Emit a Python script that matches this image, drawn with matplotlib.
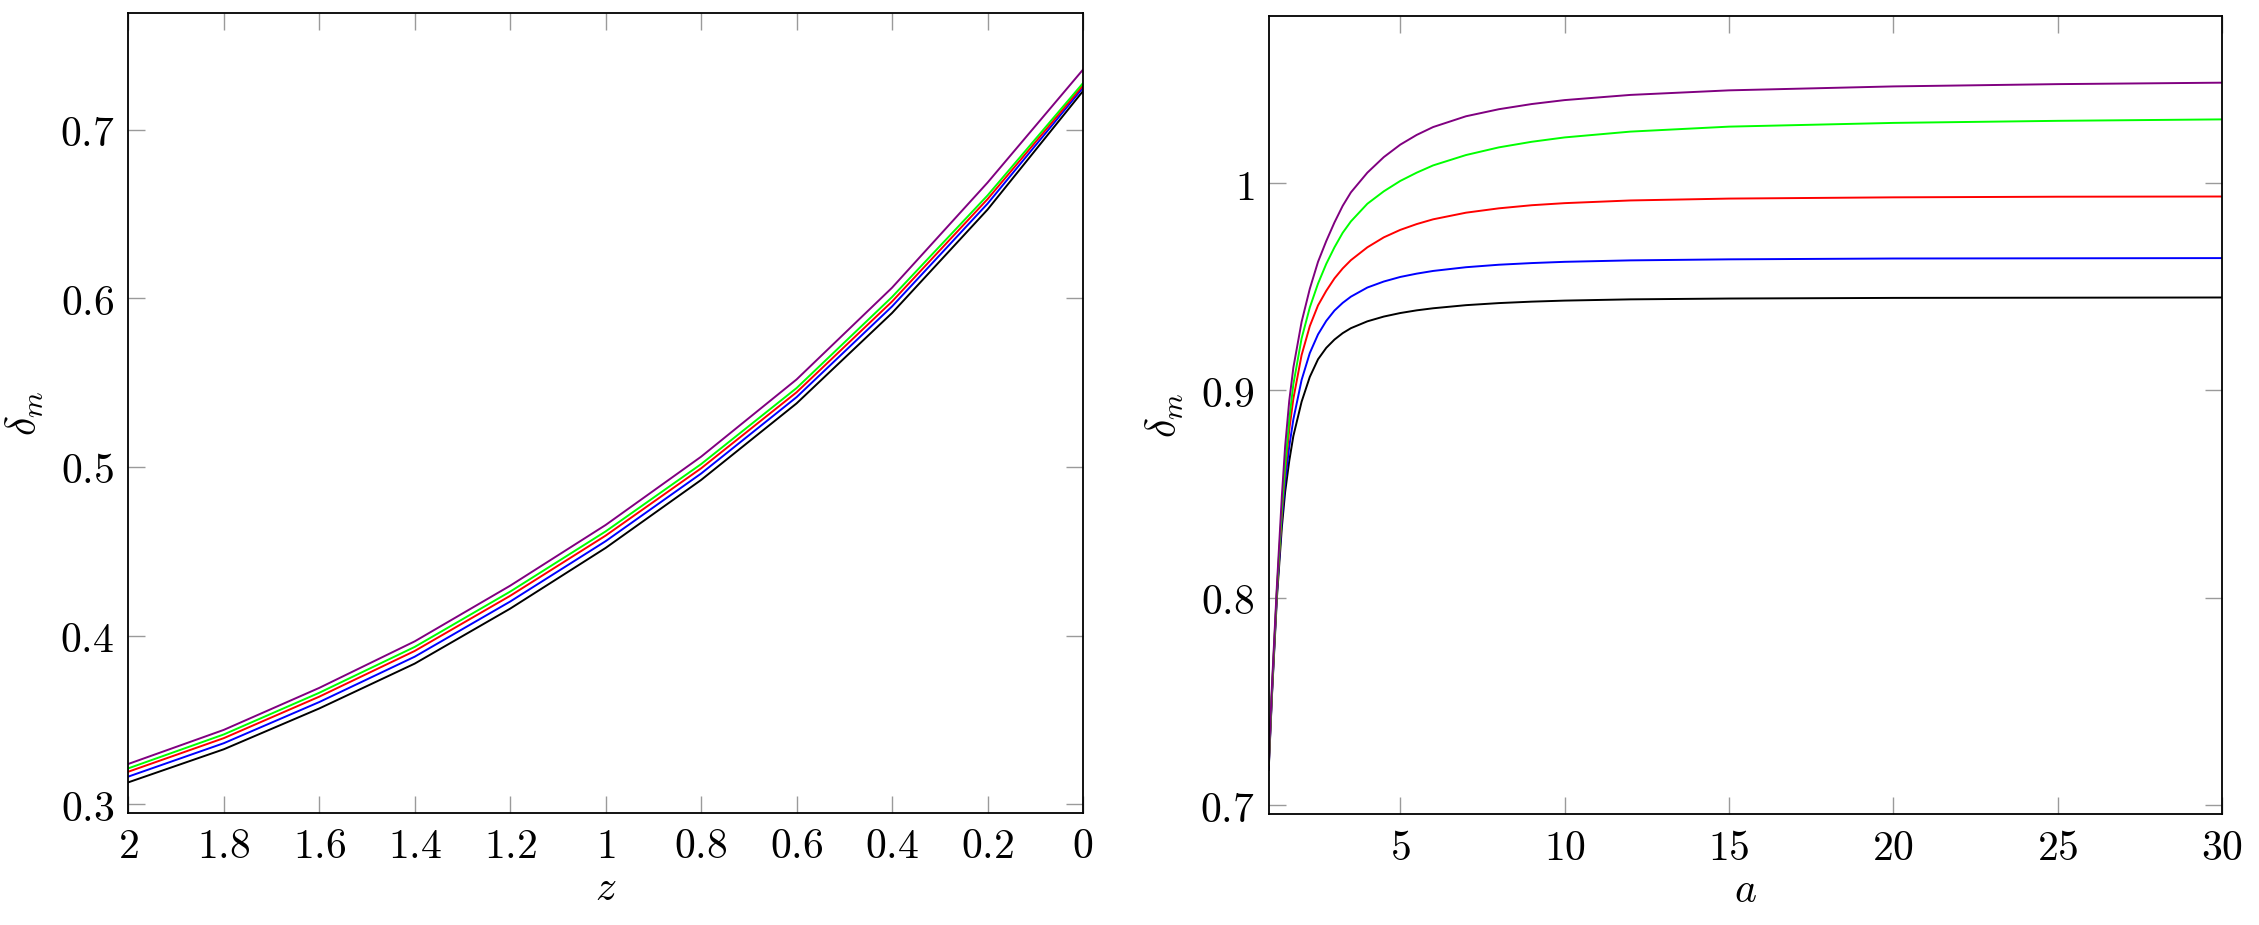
import matplotlib
matplotlib.use("Agg")
import matplotlib.pyplot as plt
from matplotlib.ticker import FixedLocator, FixedFormatter

plt.rcParams['mathtext.fontset'] = 'cm'
plt.rcParams['font.family'] = ['DejaVu Serif']

# ---------------- data: left panel (delta_m vs z) ----------------
z_vals = [2.0, 1.8, 1.6, 1.4, 1.2, 1.0, 0.8, 0.6, 0.4, 0.2, 0.0]
z_black  = [0.3130, 0.3326, 0.3568, 0.3834, 0.4160, 0.4520, 0.4923, 0.5377, 0.5913, 0.6526, 0.7229]
z_blue   = [0.3164, 0.3362, 0.3606, 0.3875, 0.4202, 0.4560, 0.4961, 0.5414, 0.5952, 0.6561, 0.7249]
z_red    = [0.3193, 0.3392, 0.3638, 0.3909, 0.4236, 0.4593, 0.4992, 0.5443, 0.5981, 0.6588, 0.7262]
z_green  = [0.3213, 0.3414, 0.3661, 0.3933, 0.4261, 0.4618, 0.5017, 0.5468, 0.6008, 0.6610, 0.7276]
z_purple = [0.3239, 0.3441, 0.3690, 0.3966, 0.4296, 0.4656, 0.5061, 0.5519, 0.6063, 0.6686, 0.7356]

# ---------------- data: right panel (delta_m vs a) ----------------
a_vals = [1.0, 1.1, 1.25, 1.4, 1.5, 1.625, 1.75, 2.0, 2.25, 2.5, 2.75, 3.0, 3.25, 3.5,
          4.0, 4.5, 5.0, 5.5, 6.0, 7.0, 8.0, 9.0, 10.0, 12.0, 15.0, 20.0, 25.0, 30.0]
a_black  = [0.717, 0.753, 0.800, 0.834, 0.851, 0.866, 0.878, 0.8945, 0.9065, 0.9150, 0.9205,
            0.9245, 0.9276, 0.9300, 0.9333, 0.9356, 0.9373, 0.9386, 0.9396, 0.9411, 0.9421,
            0.9428, 0.9433, 0.9439, 0.9443, 0.9446, 0.9447, 0.9448]
a_blue   = [0.718, 0.754, 0.802, 0.838, 0.856, 0.873, 0.886, 0.905, 0.918, 0.927, 0.9335,
            0.9385, 0.9422, 0.9452, 0.9496, 0.9525, 0.9547, 0.9563, 0.9576, 0.9594, 0.9606,
            0.9614, 0.9620, 0.9627, 0.9632, 0.9636, 0.9637, 0.9638]
a_red    = [0.719, 0.755, 0.803, 0.841, 0.861, 0.881, 0.896, 0.917, 0.931, 0.941, 0.948,
            0.954, 0.9588, 0.9628, 0.9690, 0.9738, 0.9774, 0.9802, 0.9825, 0.9857, 0.9878,
            0.9893, 0.9903, 0.9916, 0.9925, 0.9931, 0.9934, 0.9935]
a_green  = [0.720, 0.756, 0.804, 0.843, 0.864, 0.886, 0.903, 0.925, 0.940, 0.9515, 0.961,
            0.969, 0.976, 0.9815, 0.990, 0.996, 1.001, 1.0050, 1.0085, 1.0135, 1.0172,
            1.0199, 1.0220, 1.0248, 1.0272, 1.0290, 1.0300, 1.0307]
a_purple = [0.721, 0.758, 0.806, 0.849, 0.873, 0.895, 0.911, 0.933, 0.949, 0.962, 0.972,
            0.981, 0.989, 0.9955, 1.005, 1.0125, 1.0185, 1.0232, 1.0270, 1.0322, 1.0356,
            1.0381, 1.0400, 1.0425, 1.0447, 1.0466, 1.0477, 1.0484]

# ---------------- ticks ----------------
left_xticks = [2.0, 1.8, 1.6, 1.4, 1.2, 1.0, 0.8, 0.6, 0.4, 0.2, 0.0]
left_xlabels = ["2", "1.8", "1.6", "1.4", "1.2", "1", "0.8", "0.6", "0.4", "0.2", "0"]
left_yticks = [0.3, 0.4, 0.5, 0.6, 0.7]
left_ylabels = ["0.3", "0.4", "0.5", "0.6", "0.7"]
right_xticks = [5, 10, 15, 20, 25, 30]
right_xlabels = ["5", "10", "15", "20", "25", "30"]
right_yticks = [0.7, 0.8, 0.9, 1.0]
right_ylabels = ["0.7", "0.8", "0.9", "1"]

colors = {"black": "black", "blue": "#0000ff", "red": "#ff0000",
          "green": "#00ff00", "purple": "#800080"}

W, H = 2259, 925
fig = plt.figure(figsize=(W / 100, H / 100), dpi=100)

ax1 = fig.add_axes([128.3 / W, 1 - 812.7 / H, (1083 - 128.3) / W, (812.7 - 13.3) / H])
ax2 = fig.add_axes([1268.7 / W, 1 - 814 / H, (2222.3 - 1268.7) / W, (814 - 15.7) / H])

lw = 1.4
for ys, c in [(z_black, "black"), (z_blue, "blue"), (z_red, "red"),
              (z_green, "green"), (z_purple, "purple")]:
    ax1.plot(z_vals, ys, color=colors[c], lw=lw)
for ys, c in [(a_black, "black"), (a_blue, "blue"), (a_red, "red"),
              (a_green, "green"), (a_purple, "purple")]:
    ax2.plot(a_vals, ys, color=colors[c], lw=lw)

ax1.set_xlim(2, 0)
ax1.set_ylim(0.295, 0.769)
ax2.set_xlim(1, 30)
ax2.set_ylim(0.6957, 1.0807)


def style(ax, xt, xl, yt, yl, xlab):
    ax.xaxis.set_major_locator(FixedLocator(xt))
    ax.xaxis.set_major_formatter(FixedFormatter(["$" + s + "$" for s in xl]))
    ax.yaxis.set_major_locator(FixedLocator(yt))
    ax.yaxis.set_major_formatter(FixedFormatter(["$" + s + "$" for s in yl]))
    ax.tick_params(which="major", direction="in", length=12, width=1.0,
                   color="#9a9a9a", top=True, right=True, labelsize=30, pad=9)
    ax.tick_params(axis="y", pad=10)
    for sp in ax.spines.values():
        sp.set_linewidth(1.3)
        sp.set_color("black")
    ax.set_xlabel(xlab, fontsize=30, labelpad=0)
    ax.set_ylabel(r"$\delta_m$", fontsize=30, labelpad=10)


style(ax1, left_xticks, left_xlabels, left_yticks, left_ylabels, r"$z$")
style(ax2, right_xticks, right_xlabels, right_yticks, right_ylabels, r"$a$")

fig.savefig("out.png", dpi=100)
